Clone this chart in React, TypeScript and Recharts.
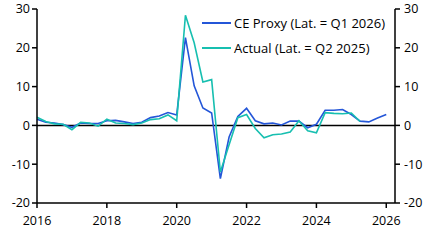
import { LineChart, Line, XAxis, YAxis, ReferenceLine } from 'recharts'

const quarters = [
  2016, 2016.25, 2016.5, 2016.75, 2017, 2017.25, 2017.5, 2017.75,
  2018, 2018.25, 2018.5, 2018.75, 2019, 2019.25, 2019.5, 2019.75,
  2020, 2020.25, 2020.5, 2020.75, 2021, 2021.25, 2021.5, 2021.75,
  2022, 2022.25, 2022.5, 2022.75, 2023, 2023.25, 2023.5, 2023.75,
  2024, 2024.25, 2024.5, 2024.75, 2025, 2025.25, 2025.5, 2025.75,
  2026,
]

const ceProxy = [
  1.6, 0.8, 0.6, 0.2, -0.5, 0.6, 0.5, 0.5,
  1.2, 1.3, 0.9, 0.5, 0.8, 2.0, 2.4, 3.3,
  2.7, 22.6, 10.2, 4.5, 3.2, -13.7, -3.0, 2.3,
  4.4, 1.2, 0.4, 0.6, 0.1, 1.1, 1.1, -0.6,
  0.3, 3.9, 3.9, 4.1, 2.8, 1.1, 0.9, 1.9,
  2.8,
]

const actual = [
  2.1, 1.0, 0.4, 0.3, -1.1, 0.8, 0.6, -0.2,
  1.6, 0.6, 0.5, 0.2, 0.6, 1.5, 1.7, 2.7,
  1.2, 28.4, 21.3, 11.2, 11.8, -12.0, -5.0, 2.0,
  2.8, -0.8, -3.2, -2.4, -2.2, -1.7, 1.2, -1.4,
  -1.9, 3.3, 3.1, 3.0, 3.2, 1.0,
]

const xTicks = [2016, 2018, 2020, 2022, 2024, 2026]
const yTicks = [-20, -10, 0, 10, 20, 30]

const seriesInfo = [
  { key: 'ce', name: 'CE Proxy (Lat. = Q1 2026)', color: '#2456d8' },
  { key: 'actual', name: 'Actual (Lat. = Q2 2025)', color: '#17bfb0' },
]

const data = quarters.map((q, i) => ({
  q,
  ce: ceProxy[i],
  actual: i < actual.length ? actual[i] : null,
}))

const font = "'Open Sans', sans-serif"
const tickStyle = { fontSize: 12.5, fill: '#000', fontFamily: font }
const axisStroke = { stroke: '#000', strokeWidth: 1.5 }

function ChartLegend() {
  return (
    <div
      style={{
        position: 'absolute',
        left: 202,
        top: 10,
        fontFamily: font,
        fontSize: 13,
        color: '#000',
      }}
    >
      {seriesInfo.map((s) => (
        <div key={s.key} style={{ display: 'flex', alignItems: 'center', height: 25.5 }}>
          <svg width={29} height={4} style={{ marginRight: 3 }}>
            <line x1={0} y1={2} x2={29} y2={2} stroke={s.color} strokeWidth={2} />
          </svg>
          <span>{s.name}</span>
        </div>
      ))}
    </div>
  )
}

export default function App() {
  return (
    <div style={{ position: 'absolute', left: 0, top: 0, width: 434, height: 241 }}>
      <LineChart width={434} height={241} data={data} margin={{ top: 9, right: 0, bottom: 0, left: 0 }}>
        <XAxis
          dataKey="q"
          type="number"
          domain={[2016, 2026.25]}
          ticks={xTicks}
          tick={tickStyle}
          axisLine={axisStroke}
          tickLine={axisStroke}
          tickSize={5}
          tickMargin={8}
          height={38}
        />
        <YAxis
          yAxisId="left"
          domain={[-20, 30]}
          ticks={yTicks}
          tick={tickStyle}
          axisLine={axisStroke}
          tickLine={axisStroke}
          tickSize={5}
          width={37}
        />
        <YAxis
          yAxisId="right"
          orientation="right"
          domain={[-20, 30]}
          ticks={yTicks}
          tick={tickStyle}
          axisLine={axisStroke}
          tickLine={axisStroke}
          tickSize={5}
          tickMargin={4}
          width={39}
        />
        <ReferenceLine yAxisId="left" y={0} stroke="#000" strokeWidth={1.5} />
        {/* invisible series so the right axis gets drawn */}
        <Line
          yAxisId="right"
          dataKey="ce"
          stroke="none"
          strokeOpacity={0}
          dot={false}
          activeDot={false}
          legendType="none"
          isAnimationActive={false}
        />
        {seriesInfo.map((s) => (
          <Line
            key={s.key}
            yAxisId="left"
            dataKey={s.key}
            name={s.name}
            stroke={s.color}
            strokeWidth={1.6}
            dot={false}
            connectNulls={false}
            isAnimationActive={false}
          />
        ))}
      </LineChart>
      <ChartLegend />
    </div>
  )
}
